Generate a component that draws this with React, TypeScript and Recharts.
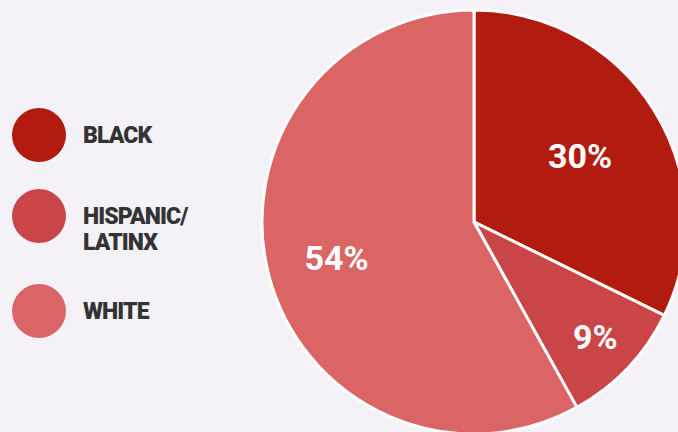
import { PieChart, Pie, Cell } from "recharts";

const groups = ["BLACK", "HISPANIC/\nLATINX", "WHITE"];
const shares = [30, 9, 54];
const colors = ["#b11b10", "#c94548", "#da6564"];

const data = groups.map((name, i) => ({ name, value: shares[i] }));

// how far out each label sits, as a fraction of the radius
const labelDepth = [0.59, 0.79, 0.67];

const RADIAN = Math.PI / 180;

const renderLabel = (props: any) => {
  const { cx, cy, midAngle, outerRadius, index, value } = props;
  const r = outerRadius * labelDepth[index];
  const x = cx + r * Math.cos(-midAngle * RADIAN);
  const y = cy + r * Math.sin(-midAngle * RADIAN);
  return (
    <text
      x={x}
      y={y}
      fill="#ffffff"
      textAnchor="middle"
      dominantBaseline="central"
      style={{ fontFamily: "Roboto, sans-serif", fontWeight: 700, fontSize: 34 }}
    >
      {value}%
    </text>
  );
};

const Legend = () => {
  const rows = [135, 216, 311];
  return (
    <>
      {data.map((d, i) => (
        <div key={d.name}>
          <div
            style={{
              position: "absolute",
              left: 12,
              top: rows[i] - 27,
              width: 54,
              height: 54,
              borderRadius: "50%",
              background: colors[i],
            }}
          />
          <div
            style={{
              position: "absolute",
              left: 83,
              top: rows[i] - 12,
              fontFamily: "Roboto, sans-serif",
              fontWeight: 900,
              fontSize: 23,
              lineHeight: "26px",
              letterSpacing: -0.9,
              color: "#333333",
              whiteSpace: "pre",
            }}
          >
            {d.name}
          </div>
        </div>
      ))}
    </>
  );
};

export default function App() {
  return (
    <div
      style={{
        position: "absolute",
        top: 0,
        left: 0,
        width: 678,
        height: 432,
        overflow: "hidden",
        background: "#f4f2f7",
      }}
    >
      <Legend />
      <div style={{ position: "absolute", top: 0, left: 0 }}>
        <PieChart width={678} height={432} margin={{ top: 0, right: 0, bottom: 0, left: 0 }}>
          <Pie
            data={data}
            dataKey="value"
            cx={474}
            cy={222}
            outerRadius={212}
            startAngle={90}
            endAngle={-270}
            stroke="#ffffff"
            strokeWidth={3}
            label={renderLabel}
            labelLine={false}
            isAnimationActive={false}
          >
            {data.map((d, i) => (
              <Cell key={d.name} fill={colors[i]} />
            ))}
          </Pie>
        </PieChart>
      </div>
    </div>
  );
}
